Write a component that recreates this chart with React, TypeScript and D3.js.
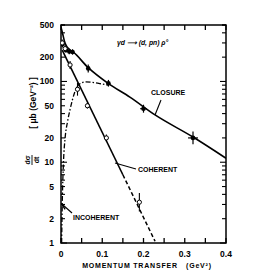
import React from "react";
import * as d3 from "d3";

// ---- data ----
const xTickValues = [0, 0.1, 0.2, 0.3, 0.4];
const xTickLabels = ["0", "0.1", "0.2", "0.3", "0.4"];
const yTickValues = [1, 2, 5, 10, 20, 50, 100, 200, 500];
const yTickLabels = ["1", "2", "5", "10", "20", "50", "100", "200", "500"];

// closure curve (solid)
const closureCurveT = [0, 0.004, 0.008, 0.013, 0.02, 0.03, 0.066, 0.115, 0.167, 0.228, 0.32, 0.4];
const closureCurveV = [470, 390, 320, 275, 250, 230, 148, 94, 64, 38.5, 20.5, 11.2];

// broad dash-dot curve
const dashDotT = [0.0015, 0.003, 0.006, 0.01, 0.016, 0.022, 0.034, 0.045, 0.06, 0.08, 0.1, 0.115];
const dashDotV = [1, 3, 10, 20, 32, 45, 75, 93, 99, 97, 93, 90];

// coherent line (solid part then dashed part)
const coherentSolidT = [0.003, 0.15];
const coherentSolidV = [244, 7.0];
const coherentDashT = [0.15, 0.228];
const coherentDashV = [7.0, 1.05];

// incoherent short curve
const incoherentT = [0.0, 0.004, 0.01];
const incoherentV = [3.1, 2.9, 2.6];

// closure data points (filled)
const closurePtT = [0.004, 0.012, 0.02, 0.028, 0.066, 0.115, 0.2, 0.32];
const closurePtV = [290, 245, 235, 232, 145, 95, 46, 20];
const closurePtErr = [1.1, 1.08, 1.08, 1.08, 1.12, 1.1, 1.12, 1.2];
const closurePtXErr = [0, 0.004, 0.004, 0.004, 0, 0, 0.008, 0.012];

// coherent data points (open)
const coherentPtT = [0.003, 0.01, 0.022, 0.04, 0.064, 0.11, 0.19];
const coherentPtV = [300, 255, 160, 80, 50, 20, 3.2];
const coherentPtErr = [1.1, 1.1, 1.12, 1.2, 1.08, 1.1, 1.3];

export default function App() {
  const W = 273, H = 273;
  const x = d3.scaleLinear().domain([0, 0.4]).range([61, 226]);
  const y = d3.scaleLog().domain([1, 500]).range([243, 25]);
  const [x0, x1] = x.range();
  const [y0, y1] = y.range();

  const curved = d3
    .line<[number, number]>()
    .x((d) => x(d[0]))
    .y((d) => y(d[1]))
    .curve(d3.curveMonotoneX);
  const straight = d3
    .line<[number, number]>()
    .x((d) => x(d[0]))
    .y((d) => y(d[1]));

  const zip = (a: number[], b: number[]) => a.map((t, i) => [t, b[i]] as [number, number]);

  const font = "'Liberation Sans', Arial, sans-serif";

  const logTicks: { v: number; major: boolean }[] = [];
  for (let dec = 1; dec <= 100; dec *= 10) {
    for (let k = 1; k <= 9; k++) {
      const v = dec * k;
      if (v > 500) break;
      logTicks.push({ v, major: k === 1 });
    }
  }
  logTicks.push({ v: 500, major: false });

  const xMinor = d3.range(0, 0.4001, 0.05);

  return (
    <svg width={W} height={H} style={{ position: "absolute", left: 0, top: 0, background: "#fff" }}>
      <rect x={0} y={0} width={W} height={H} fill="#fff" />
      <rect x={x0} y={y1} width={x1 - x0} height={y0 - y1} fill="none" stroke="#000" strokeWidth={1.5} />
      {xMinor.map((t, i) => (
        <g key={"xt" + i}>
          <line x1={x(t)} x2={x(t)} y1={y0} y2={y0 - 5} stroke="#000" strokeWidth={1.3} />
          <line x1={x(t)} x2={x(t)} y1={y1} y2={y1 + 5} stroke="#000" strokeWidth={1.3} />
        </g>
      ))}
      {logTicks.map((d, i) => (
        <g key={"yt" + i}>
          <line x1={x0} x2={x0 + (d.major ? 6 : 4)} y1={y(d.v)} y2={y(d.v)} stroke="#000" strokeWidth={1.1} />
          <line x1={x1} x2={x1 - (d.major ? 6 : 4)} y1={y(d.v)} y2={y(d.v)} stroke="#000" strokeWidth={1.1} />
        </g>
      ))}
      {xTickValues.map((t, i) => (
        <text key={"xl" + i} x={x(t)} y={257} textAnchor="middle" fontFamily={font} fontWeight="bold" fontSize={8.5}>
          {xTickLabels[i]}
        </text>
      ))}
      {yTickValues.map((v, i) => (
        <text key={"yl" + i} x={54} y={y(v) + 3} textAnchor="end" fontFamily={font} fontWeight="bold" fontSize={8.5}>
          {yTickLabels[i]}
        </text>
      ))}
      <text x={147} y={268} textAnchor="middle" fontFamily={font} fontWeight="bold" fontSize={7} letterSpacing={0.8}>
        MOMENTUM TRANSFER{"\u00a0\u00a0\u00a0"}(GeV²)
      </text>
      <g transform="translate(36,103) rotate(-90)">
        <text x={0} y={0} textAnchor="middle" fontFamily={font} fontWeight="bold" fontSize={8.5}>
          [ μb (GeV⁻²) ]
        </text>
      </g>
      <g transform="translate(33,160) rotate(-90)">
        <text x={0} y={-3} textAnchor="middle" fontFamily={font} fontWeight="bold" fontSize={7}>dσ</text>
        <line x1={-5} x2={5} y1={-1} y2={-1} stroke="#000" strokeWidth={0.9} />
        <text x={0} y={5.5} textAnchor="middle" fontFamily={font} fontWeight="bold" fontSize={7}>dt</text>
      </g>

      <clipPath id="plotclip">
        <rect x={x0} y={y1} width={x1 - x0} height={y0 - y1} />
      </clipPath>
      <g clipPath="url(#plotclip)">
        <path d={curved(zip(closureCurveT, closureCurveV)) || ""} fill="none" stroke="#000" strokeWidth={1.6} />
        <path d={curved(zip(dashDotT, dashDotV)) || ""} fill="none" stroke="#000" strokeWidth={1.3} strokeDasharray="5,2,1.5,2" />
        <path d={straight(zip(coherentSolidT, coherentSolidV)) || ""} fill="none" stroke="#000" strokeWidth={1.6} />
        <path d={straight(zip(coherentDashT, coherentDashV)) || ""} fill="none" stroke="#000" strokeWidth={1.5} strokeDasharray="4,2.5" />
        <path d={curved(zip(incoherentT, incoherentV)) || ""} fill="none" stroke="#000" strokeWidth={1.4} />
        {closurePtT.map((t, i) => {
          const v = closurePtV[i];
          const e = closurePtErr[i];
          const xe = closurePtXErr[i];
          return (
            <g key={"cp" + i}>
              <line x1={x(t)} x2={x(t)} y1={y(v * e)} y2={y(v / e)} stroke="#000" strokeWidth={1.2} />
              {xe > 0 && <line x1={x(t - xe)} x2={x(t + xe)} y1={y(v)} y2={y(v)} stroke="#000" strokeWidth={1.2} />}
              <circle cx={x(t)} cy={y(v)} r={2.3} fill="#000" />
            </g>
          );
        })}
        {coherentPtT.map((t, i) => {
          const v = coherentPtV[i];
          const e = coherentPtErr[i];
          return (
            <g key={"op" + i}>
              <line x1={x(t)} x2={x(t)} y1={y(v * e)} y2={y(v / e)} stroke="#000" strokeWidth={1.1} />
              <circle cx={x(t)} cy={y(v)} r={2.1} fill="#fff" stroke="#000" strokeWidth={1} />
            </g>
          );
        })}
      </g>

      <text x={117} y={45} fontFamily={font} fontWeight="bold" fontSize={6.8} fontStyle="italic">
        γd ⟶ (d, pn) ρ°
      </text>
      <text x={151} y={95} fontFamily={font} fontWeight="bold" fontSize={7}>CLOSURE</text>
      <line x1={161} y1={100} x2={155} y2={115} stroke="#000" strokeWidth={1.1} />
      <text x={138} y={172} fontFamily={font} fontWeight="bold" fontSize={7}>COHERENT</text>
      <line x1={115} y1={163} x2={136} y2={169} stroke="#000" strokeWidth={1.1} />
      <text x={73} y={220} fontFamily={font} fontWeight="bold" fontSize={7}>INCOHERENT</text>
      <line x1={63} y1={205} x2={72} y2={213} stroke="#000" strokeWidth={1.1} />
    </svg>
  );
}
